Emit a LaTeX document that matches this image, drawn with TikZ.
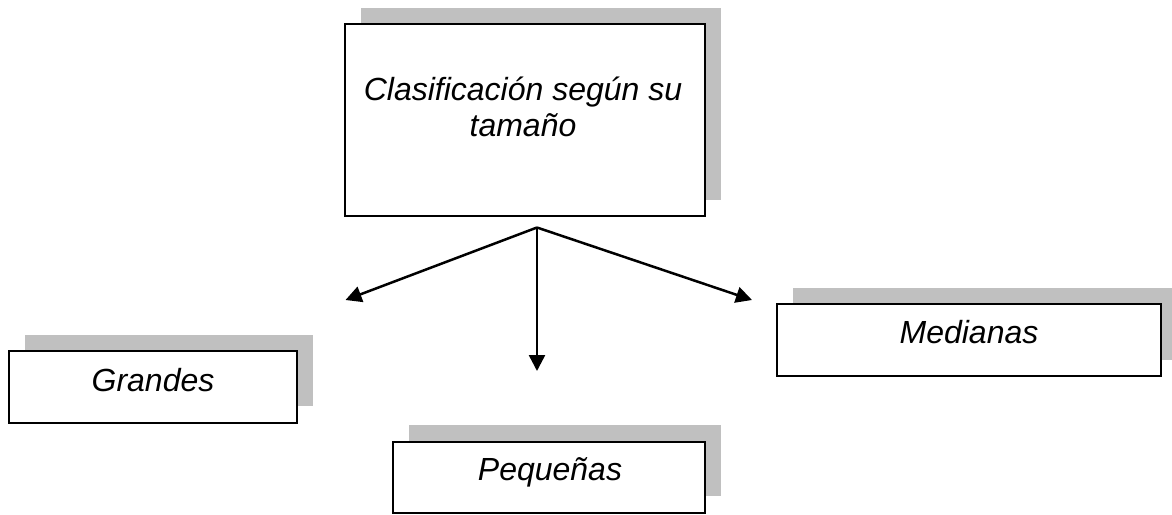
\documentclass[tikz,border=0pt]{standalone}
\usepackage{fontspec}
\setmainfont{Liberation Sans}
\usetikzlibrary{arrows.meta}
\definecolor{shadowgray}{HTML}{C0C0C0}
\tikzset{
  box/.style={draw=black, line width=2pt, fill=white, inner sep=0pt, rectangle},
  shadowbox/.style={fill=shadowgray},
  lbl/.style={anchor=base, inner sep=0pt, font=\fontsize{32}{37}\selectfont\itshape},
  conn/.style={line width=2.5pt, -{Triangle[length=16pt,width=16pt]}}
}
\begin{document}
\begin{tikzpicture}[x=1pt,y=-1pt]
\useasboundingbox (0,0) rectangle (1172,514);
% shadows
\fill[shadowgray] (361,7.5) rectangle (721,200);
\fill[shadowgray] (24.5,334.5) rectangle (312.5,406);
\fill[shadowgray] (409,425) rectangle (721,496);
\fill[shadowgray] (792.5,287.5) rectangle (1172,359.5);
% boxes
\node[box, minimum width=360.5pt, minimum height=192.5pt] (top) at (524.75,119.75) {};
\node[box, minimum width=288pt, minimum height=72pt] (grandes) at (152.5,386.5) {};
\node[box, minimum width=312pt, minimum height=71pt] (pequenas) at (549,477) {};
\node[box, minimum width=384.5pt, minimum height=72.5pt] (medianas) at (968.75,339.75) {};
% labels
\node[lbl] (t1) at (523,100) {Clasificación según su};
\node[lbl] (t2) at (523,136.5) {tamaño};
\node[lbl] (tg) at (153,391.5) {Grandes};
\node[lbl] (tp) at (550,480) {Pequeñas};
\node[lbl] (tm) at (969,343) {Medianas};
% connectors
\coordinate (apex) at (537,227.5);
\coordinate (endl) at (345.5,300);
\coordinate (endd) at (537,371);
\coordinate (endr) at (752,300);
\draw[conn] (apex) -- (endl);
\draw[conn] (apex) -- (endd);
\draw[conn] (apex) -- (endr);
\end{tikzpicture}
\end{document}
